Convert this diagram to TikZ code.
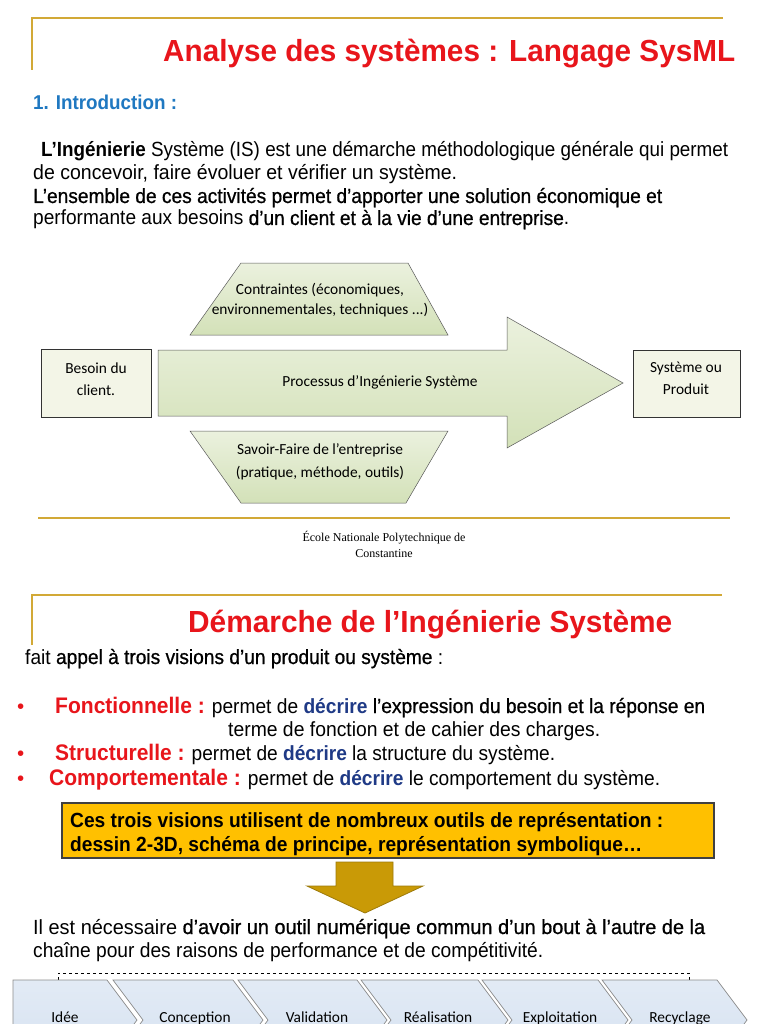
\documentclass[tikz,border=0pt]{standalone}
\usepackage{graphicx}
\usepackage{fontspec}
\setmainfont{Liberation Sans}
\newfontfamily\semibold[FakeBold=0.8]{Liberation Sans}
\newfontfamily\calibfont{Carlito}
\newfontfamily\serifnote{Liberation Serif}
\usetikzlibrary{positioning}
\definecolor{titlered}{HTML}{E8151B}
\definecolor{introblue}{HTML}{1F78C1}
\definecolor{decblue}{HTML}{1F3A86}
\definecolor{framegold}{HTML}{D2A936}
\definecolor{greenlight}{HTML}{EBF1DE}
\definecolor{greendark}{HTML}{D3E1B8}
\definecolor{boxcream}{HTML}{F3F5E7}
\definecolor{boxorange}{HTML}{FFC000}
\definecolor{arrowgold}{HTML}{C99A06}
\definecolor{arrowedge}{HTML}{9C7A0B}
\definecolor{chevblue}{HTML}{D6E2F1}
\definecolor{chevedge}{HTML}{8C8C8C}
\newcommand\fitw[2]{\resizebox{#1pt}{\height}{#2}}

\begin{document}
\begin{tikzpicture}[x=1pt,y=-1pt,
    body/.style={font=\fontsize{20.5}{23}\selectfont, anchor=base west, inner sep=0pt},
    slidetitle/.style={font=\bfseries\fontsize{30.5}{36}\selectfont, text=titlered, anchor=base west, inner sep=0pt},
    diagtext/.style={font=\calibfont\fontsize{15.4}{22}\selectfont, align=center, inner sep=0pt},
    frameline/.style={draw=framegold, line width=1.6pt},
    greenshape/.style={draw=gray!70!black, line width=0.5pt, top color=greenlight, bottom color=greendark},
    sidebox/.style={draw=black!80, line width=0.9pt, fill=boxcream},
    chevron/.style={draw=chevedge, line width=0.7pt, top color=chevblue!70, bottom color=chevblue}]
\useasboundingbox (0,0) rectangle (768,1024);
\clip (0,0) rectangle (768,1024);
\fill[white] (0,0) rectangle (768,1024);

% --- first slide
\draw[frameline] (32,70) -- (32,18) -- (723,18);
\node[slidetitle] (title1) at (163,62) {\fitw{572}{Analyse des systèmes : Langage SysML}};
\node[body, font=\bfseries\fontsize{20}{23}\selectfont, text=introblue] (intro) at (33,110) {\fitw{144}{1. Introduction :}};
\node[body] (para1) at (41,157) {\fitw{687}{\textbf{L’Ingénierie} Système (IS) est une démarche méthodologique générale qui permet}};
\node[body] (para2) at (33,180) {\fitw{424}{de concevoir, faire évoluer et vérifier un système.}};
\node[body] (para3) at (33,203) {\fitw{629}{\semibold L’ensemble de ces activités permet d’apporter une solution économique et}};
\node[body] (para4) at (33,225) {\fitw{536}{performante aux besoins {\semibold d’un client et à la vie d’une entreprise}.}};

\draw[greenshape] (241,263) -- (408,263) -- (448,335) -- (190,335) -- cycle;
\draw[greenshape] (190,431) -- (448,431) -- (406,503) -- (241,503) -- cycle;
\draw[greenshape] (158,350) -- (507,350) -- (507,317) -- (623,383) -- (507,448) -- (507,416) -- (158,416) -- cycle;
\draw[sidebox] (41,349) rectangle (151,417);
\draw[sidebox] (633,350) rectangle (740,417);
\node[diagtext] (besoin) at (96,379) {Besoin du\\client.};
\node[diagtext] (produit) at (686,378) {Système ou\\Produit};
\node[diagtext] (processus) at (380,382) {Processus d’Ingénierie Système};
\node[diagtext, font=\calibfont\fontsize{15.4}{20}\selectfont] (contraintes) at (320,300) {Contraintes (économiques,\\environnementales, techniques ...)};
\node[diagtext, font=\calibfont\fontsize{15.4}{23}\selectfont] (savoir) at (320,462) {Savoir-Faire de l’entreprise\\(pratique, méthode, outils)};

\draw[frameline, line width=1.4pt] (38,518) -- (730,518);
\node[font=\serifnote\fontsize{12}{16}\selectfont, align=center] (ecole) at (384,544) {École Nationale Polytechnique de\\Constantine};

% --- second slide
\draw[frameline] (32,645) -- (32,595) -- (722,595);
\node[slidetitle] (title2) at (188,632) {\fitw{484}{Démarche de l’Ingénierie Système}};
\node[body] (appel) at (25,664) {\fitw{418}{fait {\semibold appel à trois visions d’un produit ou système} :}};

\node[body, text=titlered] (dot1) at (17,713) {•};
\node[body] (fonct) at (55,713) {\fitw{650}{\textcolor{titlered}{\bfseries\fontsize{22.5}{24}\selectfont Fonctionnelle :} permet de \textcolor{decblue}{\bfseries décrire} {\semibold l’expression du besoin et la réponse en}}};
\node[body] (fonct2) at (228,736) {\fitw{372}{terme de fonction et de cahier des charges.}};
\node[body, text=titlered] (dot2) at (17,760) {•};
\node[body] (struct) at (55,760) {\fitw{500}{\textcolor{titlered}{\bfseries\fontsize{22.5}{24}\selectfont Structurelle :} permet de \textcolor{decblue}{\bfseries décrire} la structure du système.}};
\node[body, text=titlered] (dot3) at (17,785) {•};
\node[body] (comport) at (49,785) {\fitw{611}{\textcolor{titlered}{\bfseries\fontsize{22.5}{24}\selectfont Comportementale :} permet de \textcolor{decblue}{\bfseries décrire} le comportement du système.}};

\draw[fill=boxorange, draw=black!75, line width=1.2pt] (62,803) rectangle (714,858);
\node[body, font=\bfseries\fontsize{20.5}{23}\selectfont] (visions1) at (70,827) {\fitw{593}{Ces trois visions utilisent de nombreux outils de représentation :}};
\node[body, font=\bfseries\fontsize{20.5}{23}\selectfont] (visions2) at (70,851) {\fitw{572}{dessin 2-3D, schéma de principe, représentation symbolique…}};

\draw[fill=arrowgold, draw=arrowedge, line width=0.8pt] (336,862) -- (393,862) -- (393,886) -- (423,886) -- (365,913) -- (307,886) -- (336,886) -- cycle;

\node[body] (outil1) at (33,934) {\fitw{672}{Il est nécessaire {\semibold d’avoir un outil numérique commun d’un bout à l’autre de la}}};
\node[body] (outil2) at (33,957) {\fitw{510}{chaîne pour des raisons de performance et de compétitivité.}};

\draw[dashed, line width=0.7pt] (58,980) -- (58,973) -- (689,973) -- (689,980);

\draw[chevron] (13,980) -- (107,980) -- (137,1020) -- (107,1060) -- (13,1060) -- cycle;
\foreach \l/\r in {113/233, 238/357, 361/478, 482/598, 602/717}
  \draw[chevron] (\l,980) -- (\r,980) -- (\r+30,1020) -- (\r,1060) -- (\l,1060) -- (\l+30,1020) -- cycle;
\foreach \x/\name/\txt in {65/idee/Idée, 195/conception/Conception, 317/validation/Validation,
    438/realisation/Réalisation, 560/exploitation/Exploitation, 680/recyclage/Recyclage}
  \node[font=\calibfont\fontsize{15.4}{18}\selectfont, inner sep=0pt, anchor=base] (\name) at (\x,1022) {\txt};
\end{tikzpicture}
\end{document}
